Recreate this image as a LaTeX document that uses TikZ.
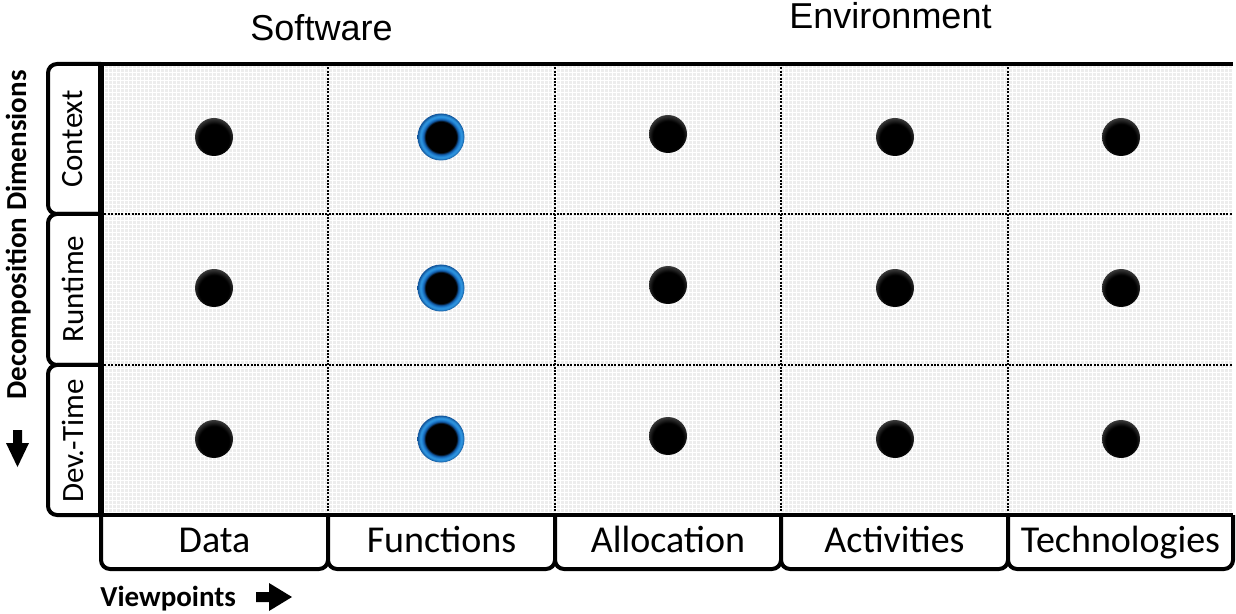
\documentclass[tikz,border=0pt]{standalone}
\usepackage{fontspec}
\setmainfont{Carlito}
\newfontfamily\headfont{Liberation Sans}

\definecolor{gridbg}{RGB}{237,237,237}
\definecolor{ringlight}{RGB}{50,155,228}
\definecolor{ringmid}{RGB}{28,122,205}
\definecolor{ringdark}{RGB}{16,82,152}

% glossy black ball: lighter rim at the top
\pgfdeclareradialshading{blackball}{\pgfpoint{0bp}{-5bp}}{%
  color(0bp)=(black); color(20bp)=(black); color(30bp)=(black!68); color(50bp)=(black!68)}
% black core inside a blue ring
\pgfdeclareradialshading{blueball}{\pgfpoint{0bp}{0bp}}{%
  color(0bp)=(black); color(16.5bp)=(black); color(18.3bp)=(ringdark);
  color(19.8bp)=(ringmid); color(22bp)=(ringlight); color(25bp)=(ringdark); color(50bp)=(ringdark)}

\begin{document}
\begin{tikzpicture}[x=0.5pt,y=-0.5pt,
  border/.style={line width=2pt},
  tabline/.style={line width=2pt, rounded corners=4.5pt, fill=white},
  divider/.style={line width=1pt, dash pattern=on 1pt off 0.7pt},
  sidelabel/.style={rotate=90, font=\fontsize{15.5pt}{18pt}\selectfont, inner sep=0pt},
  viewlabel/.style={anchor=base, font=\fontsize{19pt}{22pt}\selectfont, inner sep=0pt},
  axislabel/.style={font=\bfseries\fontsize{14.5pt}{17pt}\selectfont, inner sep=0pt},
  headlabel/.style={anchor=base, font=\headfont\fontsize{18pt}{21pt}\selectfont, inner sep=0pt},
  dotblk/.style={circle, minimum size=19pt, inner sep=0pt, shading=blackball},
  dotblue/.style={circle, minimum size=23.5pt, inner sep=0pt, shading=blueball},
  arrowfill/.style={fill=black}]
\useasboundingbox (0,0) rectangle (1236,614);

% matrix background with fine texture
\fill[gridbg] (101,64) rectangle (1233,515);
\draw[white, line width=0.35pt, step=2pt] (101,64) grid (1233,515);

% dotted cell separators
\foreach \x in {328,555,781,1008}
  \draw[divider] (\x,64) -- (\x,515);
\foreach \y in {214,365}
  \draw[divider] (101,\y) -- (1233,\y);

% row tabs on the left
\foreach \a/\b in {64/214,214/365,365/515}
  \draw[tabline] (101,\a) -- (48,\a) -- (48,\b) -- (101,\b);
\node[sidelabel] (ctx) at (73,139) {Context};
\node[sidelabel] (rt) at (73,289) {Runtime};
\node[sidelabel] (dt) at (73,441) {Dev.-Time};

% column tabs at the bottom
\foreach \a/\b in {101/328,328/555,555/781,781/1008,1008/1233}
  \draw[tabline] (\a,515) -- (\a,569) -- (\b,569) -- (\b,515);
\node[viewlabel] (vdata) at (214.5,552) {Data};
\node[viewlabel] (vfunc) at (441.5,552) {Functions};
\node[viewlabel] (valloc) at (668,552) {Allocation};
\node[viewlabel] (vact) at (894.5,552) {Activities};
\node[viewlabel] (vtech) at (1120.5,552) {Technologies};

% matrix frame
\draw[border] (101,64) -- (1233,64);
\draw[line width=2.8pt] (101,63) -- (101,516);
\draw[border] (101,515) -- (1233,515);

% cell markers
\foreach \r/\y in {1/137,2/288,3/439}{
  \node[dotblk] (data-\r) at (214,\y) {};
  \node[dotblue] (func-\r) at (441,\y) {};
  \node[dotblk] (alloc-\r) at (668,\y-3) {};
  \node[dotblk] (act-\r) at (895,\y) {};
  \node[dotblk] (tech-\r) at (1121,\y) {};
}

% headings
\node[headlabel] (software) at (321.5,41) {Software};
\node[headlabel] (environment) at (890.5,29) {Environment};

% axis captions with block arrows
\node[axislabel, rotate=90, anchor=base] (decomp) at (26,235) {Decomposition Dimensions};
\fill[arrowfill] (13,430) -- (22,430) -- (22,443) -- (29,443) -- (17.5,467) -- (6,443) -- (13,443) -- cycle;
\node[axislabel, anchor=base west] (viewpoints) at (100,606) {Viewpoints};
\fill[arrowfill] (256,592) -- (269,592) -- (269,583) -- (292,597) -- (269,611) -- (269,602) -- (256,602) -- cycle;
\end{tikzpicture}
\end{document}
